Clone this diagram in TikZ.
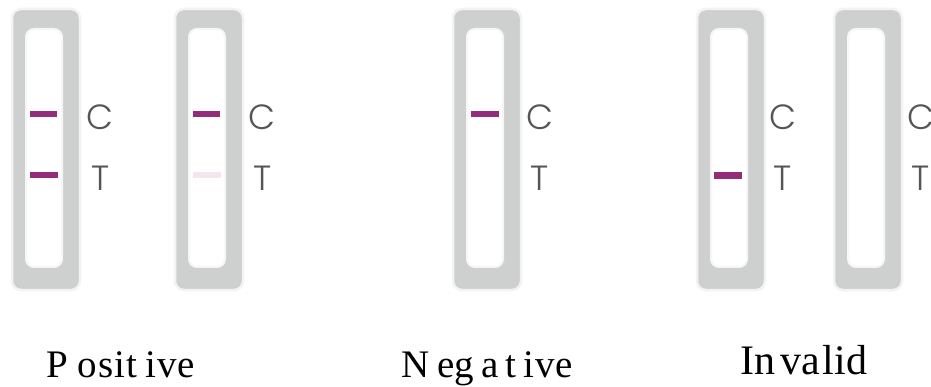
\documentclass[tikz,border=0pt]{standalone}
\usepackage{fontspec}
\setmainfont{Liberation Serif}
\IfFontExistsTF{Poppins Light}{\newfontfamily\ctfont{Poppins Light}}{\newfontfamily\ctfont{Poppins}}
\definecolor{stripgray}{RGB}{206,208,208}
\definecolor{halo}{RGB}{243,243,243}
\definecolor{innerrim}{RGB}{246,246,246}
\definecolor{band}{RGB}{146,44,123}
\definecolor{faintband}{RGB}{243,230,239}
\definecolor{ctgray}{RGB}{85,85,85}
\tikzset{
  outerstrip/.style={fill=stripgray,draw=halo,line width=2.5pt,rounded corners=9pt},
  innerwin/.style={fill=white,draw=innerrim,line width=2pt,rounded corners=8pt},
  bandline/.style={fill=band},
  faintline/.style={fill=faintband},
  ctlabel/.style={font=\ctfont\fontsize{35}{35}\selectfont,text=ctgray,inner sep=0pt,anchor=center},
  result/.style={font=\fontsize{39}{39}\selectfont,inner sep=0pt,anchor=base west},
}
\newcommand{\teststrip}[2]{%
  \path[outerstrip] (#1,9) rectangle (#1+68,290);
  \path[innerwin] (#1+14,29) rectangle (#1+50,267);
}
\begin{document}
\begin{tikzpicture}[x=1pt,y=-1pt]
\useasboundingbox[fill=white] (0,0) rectangle (931,387);
% strips
\teststrip{12}{}
\teststrip{175}{}
\teststrip{453}{}
\teststrip{697}{}
\teststrip{834}{}
% bands
\path[bandline] (30,111) rectangle (57,117);
\path[bandline] (30,172) rectangle (58,178);
\path[bandline] (193,111) rectangle (220,117);
\path[faintline] (193,172) rectangle (221,178);
\path[bandline] (471,111) rectangle (499,117);
\path[bandline] (714,172) rectangle (742,179);
% C / T letters
\node[ctlabel] (c1) at (100,117) {C};
\node[ctlabel] (t1) at (100.5,178) {T};
\node[ctlabel] (c2) at (262,117) {C};
\node[ctlabel] (t2) at (262.5,178) {T};
\node[ctlabel] (c3) at (539.5,117) {C};
\node[ctlabel] (t3) at (540,178) {T};
\node[ctlabel] (c4) at (782.5,117) {C};
\node[ctlabel] (t4) at (783,178) {T};
\node[ctlabel] (c5) at (920.5,117) {C};
\node[ctlabel] (t5) at (921,178) {T};
% result labels
\node[result] (pos) at (46,377) {P\kern10pt o\kern1pt s\kern1pt i\kern1pt t\kern8pt i\kern1pt v\kern1pt e};
\node[result] (neg) at (401,377) {N\kern8pt eg\kern7pt a\kern7pt t\kern7pt i\kern1pt v\kern1pt e};
\node[result,font=\fontsize{42}{42}\selectfont] (inv) at (740,374) {In\kern5pt va\kern3pt lid};
\end{tikzpicture}
\end{document}
